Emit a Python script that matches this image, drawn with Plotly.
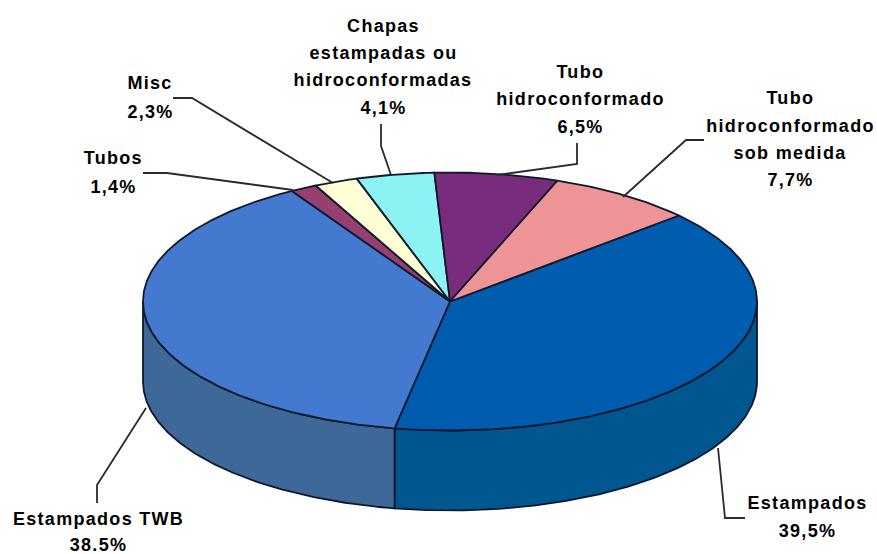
import math
import plotly.graph_objects as go

# --- data ---
slice_names = ["Estampados", "Estampados TWB", "Tubos", "Misc",
               "Chapas estampadas ou hidroconformadas", "Tubo hidroconformado",
               "Tubo hidroconformado sob medida"]
slice_values = [39.5, 38.5, 1.4, 2.3, 4.1, 6.5, 7.7]
top_colors = ["#005CAE", "#4379CE", "#96406F", "#FFFFD6", "#8CF2F4", "#7A2C7C", "#EE9496"]
side_colors = ["#00568F", "#3E6897"]

label_lines = [
    ["Chapas", "estampadas ou", "hidroconformadas", "4,1%"],
    ["Tubo", "hidroconformado", "6,5%"],
    ["Tubo", "hidroconformado", "sob medida", "7,7%"],
    ["Misc", "2,3%"],
    ["Tubos", "1,4%"],
    ["Estampados TWB", "38.5%"],
    ["Estampados", "39,5%"],
]

# --- layout (pixel-based drawing frame) ---
W, H = 877, 554
CX, CY, RX, RY, DEPTH = 450, 301.5, 307, 129, 80
START_DEG = 48.2
OUTLINE = "#10182c"
label_anchor = [(383, [26, 53, 80, 108]), (580, [72, 99, 127]),
                (790, [98, 126, 153, 180]), (150, [83, 112]),
                (113, [158, 187]), (98, [519, 545]), (807, [503, 531])]
leader_paths = [
    [(381, 124), (381, 146), (391, 175)],
    [(577, 143), (577, 164), (497, 175)],
    [(704, 140), (686, 140), (623, 197)],
    [(173, 98), (192, 98), (333, 183)],
    [(143, 173), (167, 173), (293, 190)],
    [(97, 503), (97, 485), (146, 408)],
    [(745, 518), (725, 518), (718, 448)],
]


def rim(deg, dy=0.0):
    a = math.radians(deg)
    return CX + RX * math.sin(a), CY - RY * math.cos(a) + dy


def arc(d0, d1, dy=0.0):
    n = max(2, int(abs(d1 - d0)) * 2)
    return [rim(d0 + (d1 - d0) * i / n, dy) for i in range(n + 1)]


def poly(pts, fill, width=1.8):
    return go.Scatter(x=[p[0] for p in pts], y=[p[1] for p in pts], mode="lines",
                      fill="toself", fillcolor=fill,
                      line=dict(color=OUTLINE, width=width),
                      hoverinfo="skip", showlegend=False)


fig = go.Figure()

# slice boundaries from the values
bounds = [START_DEG]
for v in slice_values:
    bounds.append(bounds[-1] + v * 3.6)

# visible side wall (front half of the rim)
for i, col in enumerate(side_colors):
    a0 = max(bounds[i], 90)
    a1 = min(bounds[i + 1], 270)
    fig.add_trace(poly(arc(a0, a1) + arc(a1, a0, DEPTH) + [rim(a0)], col))

# top face
for i, col in enumerate(top_colors):
    fig.add_trace(poly([(CX, CY)] + arc(bounds[i], bounds[i + 1]) + [(CX, CY)], col))

# leader lines
for path in leader_paths:
    fig.add_trace(go.Scatter(x=[p[0] for p in path], y=[p[1] for p in path], mode="lines",
                             line=dict(color="#2a2a2a", width=1.8),
                             hoverinfo="skip", showlegend=False))

# labels
annotations = []
for lines, (x, ys) in zip(label_lines, label_anchor):
    for t, y in zip(lines, ys):
        annotations.append(dict(x=x, y=y, text=t, showarrow=False, xanchor="center",
                                yanchor="middle", xref="x", yref="y",
                                font=dict(family="Liberation Sans", size=18,
                                          color="#000000", weight="bold")))

fig.update_layout(
    width=W, height=H, autosize=False,
    margin=dict(l=0, r=0, t=0, b=0),
    paper_bgcolor="white", plot_bgcolor="white",
    xaxis=dict(range=[0, W], visible=False, fixedrange=True),
    yaxis=dict(range=[H, 0], visible=False, fixedrange=True),
    annotations=annotations, showlegend=False,
)
fig.write_html("out.html", config=dict(displayModeBar=False),
               post_script="var s=document.createElement('style');s.textContent='body{margin:0}.annotation-text{letter-spacing:1.3px;-webkit-text-stroke:0.5px #000}';document.head.appendChild(s);")
